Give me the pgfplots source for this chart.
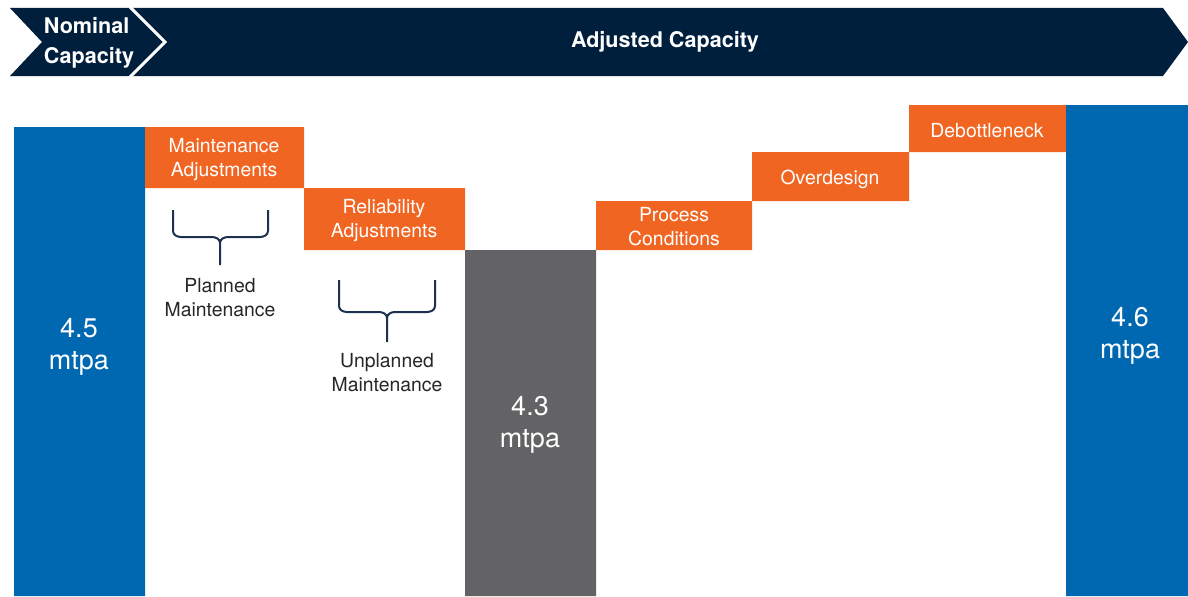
\documentclass[border=0pt]{standalone}
\usepackage{pgfplots}
\pgfplotsset{compat=1.18}
\usepackage{fontspec}
\setmainfont{TeX Gyre Heros}
\definecolor{navy}{RGB}{0,31,61}
\definecolor{capblue}{RGB}{0,103,177}
\definecolor{adjorange}{RGB}{241,101,34}
\definecolor{midgray}{RGB}{99,99,101}
\definecolor{bracecol}{RGB}{28,48,80}

% one waterfall block: x from #1 to #2, y from #3 to #4 (pixel-like units)
\newcommand{\wbar}[5]{%
  \addplot[fill=#5, draw=none] coordinates {(#1,#3) (#2,#3) (#2,#4) (#1,#4) (#1,#3)};}
% curly brace pointing down: left, centre, right, top, line y, tip y
\newcommand{\wbrace}[6]{%
  \draw[bracecol, line width=1pt]
    (axis cs:#1,#4) -- (axis cs:#1,#5+6) to[out=-90,in=180] (axis cs:#1+8,#5)
    -- (axis cs:#2-8,#5) to[out=0,in=90] (axis cs:#2,#5-6) -- (axis cs:#2,#6);
  \draw[bracecol, line width=1pt]
    (axis cs:#3,#4) -- (axis cs:#3,#5+6) to[out=-90,in=0] (axis cs:#3-8,#5)
    -- (axis cs:#2+8,#5) to[out=180,in=90] (axis cs:#2,#5-6);}

\begin{document}
\begin{tikzpicture}
\begin{axis}[
  width=594pt, height=298pt, scale only axis,
  xmin=0, xmax=1188, ymin=0, ymax=596,
  hide axis, clip=false,
]
  % banner
  \addplot[fill=navy, draw=none] coordinates {
    (10,588) (1163,588) (1188,554) (1163,520) (10,520) (42,554) (10,588)};
  \addplot[white, line width=1.5pt] coordinates {(130,589) (165,554) (130,519)};

  % waterfall: totals and adjustments
  \wbar{14}{145}{0}{469}{capblue}
  \wbar{145}{304}{408}{469}{adjorange}
  \wbar{304}{465}{346}{408}{adjorange}
  \wbar{465}{596}{0}{346}{midgray}
  \wbar{596}{752}{346}{395}{adjorange}
  \wbar{752}{909}{395}{444}{adjorange}
  \wbar{909}{1066}{444}{491}{adjorange}
  \wbar{1066}{1188}{0}{491}{capblue}

  % braces
  \wbrace{173}{220}{268}{386}{359}{331}
  \wbrace{339}{387}{435}{316}{284}{254}

  % banner text
  \node[white, font=\fontsize{10.8}{15}\selectfont\bfseries, align=left]
    at (axis cs:89,553) {Nominal\\Capacity};
  \node[white, font=\fontsize{10.8}{13}\selectfont\bfseries]
    at (axis cs:665,554) {Adjusted Capacity};

  % totals
  \node[white, font=\fontsize{13.5}{16}\selectfont, align=center]
    at (axis cs:79,249) {4.5\\mtpa};
  \node[white, font=\fontsize{13.5}{16}\selectfont, align=center]
    at (axis cs:530,171) {4.3\\mtpa};
  \node[white, font=\fontsize{13.5}{16}\selectfont, align=center]
    at (axis cs:1130,260) {4.6\\mtpa};

  % adjustment labels
  \begin{scope}[every node/.style={white, font=\fontsize{9.7}{12}\selectfont, align=center}]
    \node at (axis cs:224,436) {Maintenance\\Adjustments};
    \node at (axis cs:384,375) {Reliability\\Adjustments};
    \node at (axis cs:674,369) {Process\\Conditions};
    \node at (axis cs:830,417) {Overdesign};
    \node at (axis cs:987,465) {Debottleneck};
  \end{scope}
  \node[black!85, font=\fontsize{9.7}{12}\selectfont, align=center]
    at (axis cs:220,298) {Planned\\Maintenance};
  \node[black!85, font=\fontsize{9.7}{12}\selectfont, align=center]
    at (axis cs:387,223) {Unplanned\\Maintenance};
\end{axis}
\pgfresetboundingbox
\path (0,0) rectangle (594pt,298pt);
\end{tikzpicture}
\end{document}
